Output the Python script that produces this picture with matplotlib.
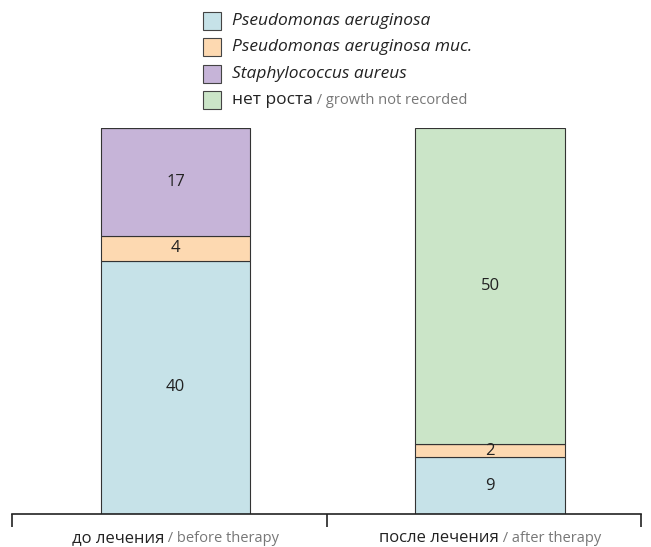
import matplotlib
matplotlib.use("Agg")
import matplotlib.pyplot as plt
import numpy as np
from matplotlib.offsetbox import TextArea, HPacker, VPacker, DrawingArea, AnchoredOffsetbox, AnnotationBbox
from matplotlib.patches import Rectangle

groups_ru = ["до лечения", "после лечения"]
groups_en = ["before therapy", "after therapy"]
series = ["Pseudomonas aeruginosa", "Pseudomonas aeruginosa muc.", "Staphylococcus aureus", "нет роста"]
values = {
    "Pseudomonas aeruginosa": [40, 9],
    "Pseudomonas aeruginosa muc.": [4, 2],
    "Staphylococcus aureus": [17, 0],
    "нет роста": [0, 50],
}
colors = ["#c6e2e8", "#fdd9b1", "#c6b4d8", "#cbe5c8"]

plt.rcParams['font.family'] = ['Open Sans', 'DejaVu Sans']

fig = plt.figure(figsize=(6.51, 5.47), dpi=100)
ax = fig.add_axes([12/651, 33/547, 629/651, (514-128)/547])

x = np.arange(len(groups_ru)) + 0.52
bottom = np.zeros(len(groups_ru))
for name, c in zip(series, colors):
    v = np.array(values[name], dtype=float)
    ax.bar(x, v, 0.475, bottom=bottom, color=c, edgecolor='#333333', linewidth=0.8)
    for xi, b, vi in zip(x, bottom, v):
        if vi > 0:
            ax.text(xi, b + vi/2, str(int(vi)), ha='center', va='center', fontsize=12, color='#222222')
    bottom += v

ax.set_xlim(0, 2)
ax.set_ylim(0, bottom.max())
ax.set_yticks([])
for s in ['left', 'right', 'top']:
    ax.spines[s].set_visible(False)
ax.spines['bottom'].set_color('#222222')
ax.spines['bottom'].set_linewidth(1.2)
ax.set_xticks([0, 1, 2])
ax.set_xticklabels([])
ax.tick_params(axis='x', direction='out', length=9, width=1.2, color='#222222')

# group labels: russian in black, english in gray
for xi, ru, en in zip(x, groups_ru, groups_en):
    box = HPacker(children=[TextArea(ru, textprops=dict(color='#222222', fontsize=12)),
                            TextArea(" / " + en, textprops=dict(color='#777777', fontsize=10.5))],
                  align='baseline', pad=0, sep=0)
    ab = AnnotationBbox(box, (xi, -0.062), xycoords=('data', 'axes fraction'),
                        box_alignment=(0.5, 0.5), frameon=False, pad=0)
    ax.add_artist(ab)

# legend
rows = []
for name, c in zip(series, colors):
    da = DrawingArea(13, 13, 0, 0)
    da.add_artist(Rectangle((0, 0), 13, 13, facecolor=c, edgecolor='#444444', linewidth=0.8))
    if name == "нет роста":
        txt = HPacker(children=[TextArea(name, textprops=dict(color='#222222', fontsize=12.5)),
                                TextArea(" / growth not recorded", textprops=dict(color='#777777', fontsize=10.5))],
                      align='baseline', pad=0, sep=0)
    else:
        txt = TextArea(name, textprops=dict(color='#222222', fontsize=12.5, style='italic'))
    rows.append(HPacker(children=[da, txt], align='center', pad=0, sep=8))
legend = VPacker(children=rows, align='left', pad=0, sep=6)
anc = AnchoredOffsetbox(loc='upper left', child=legend, frameon=False, pad=0,
                        bbox_to_anchor=(203/651, 1 - 12/547), bbox_transform=fig.transFigure, borderpad=0)
fig.add_artist(anc)

fig.savefig("out.png", dpi=100)
